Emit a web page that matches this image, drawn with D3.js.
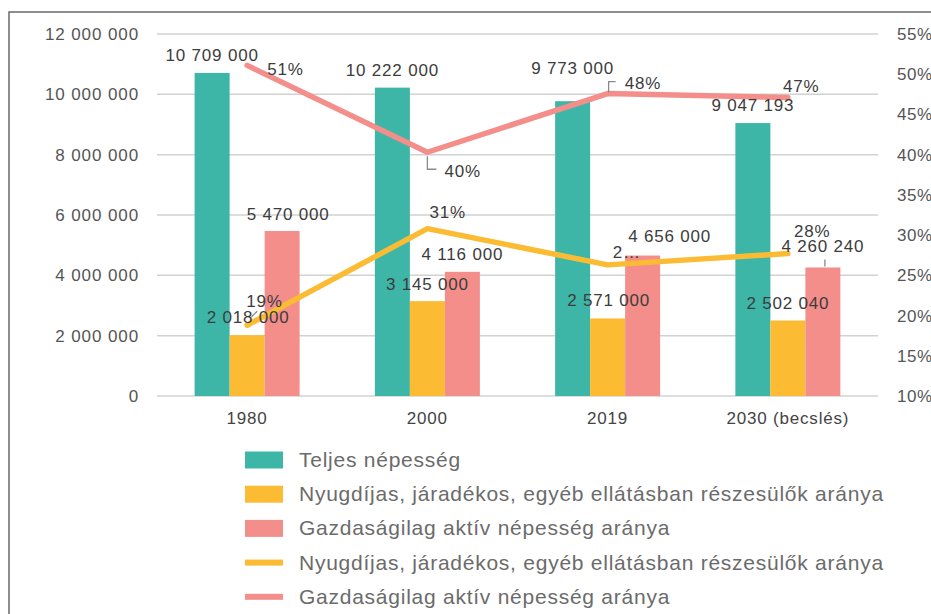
<!DOCTYPE html>
<html>
<head>
<meta charset="utf-8">
<script src="https://cdn.jsdelivr.net/npm/d3@7"></script>
<style>
  body { margin: 0; background: #fff; }
  svg { display: block; font-family: "Liberation Sans", Arial, sans-serif; }
</style>
</head>
<body>
<svg id="chart"></svg>
<script>
// categories and values
const categories = ['1980', '2000', '2019', '2030 (becslés)'];
const totalPop = [10709000, 10222000, 9773000, 9047193];
const pensioners = [2018000, 3145000, 2571000, 2502040];
const activePop = [5470000, 4116000, 4656000, 4260240];
const pensionerPct = [18.8, 30.8, 26.3, 27.7];
const activePct = [51.1, 40.3, 47.6, 47.1];
const pensionerPctLabels = ['19%', '31%', '2…', '28%'];
const activePctLabels = ['51%', '40%', '48%', '47%'];
const leftTicks = [0, 2000000, 4000000, 6000000, 8000000, 10000000, 12000000];
const rightTicks = [10, 15, 20, 25, 30, 35, 40, 45, 50, 55];
const legendNames = [
  'Teljes népesség',
  'Nyugdíjas, járadékos, egyéb ellátásban részesülők aránya',
  'Gazdaságilag aktív népesség aránya',
  'Nyugdíjas, járadékos, egyéb ellátásban részesülők aránya',
  'Gazdaságilag aktív népesség aránya'
];

const W = 931, H = 614;
const colors = { teal: '#3db6a8', yellow: '#fbbc33', pink: '#f38e8b' };
const fmt = (v) => d3.format(',')(v).replace(/,/g, ' ');

const $svg = d3.select('#chart').attr('width', W).attr('height', H);

// frame
$svg.append('rect')
  .attr('x', 9).attr('y', 12).attr('width', 1000).attr('height', 700)
  .attr('fill', 'none').attr('stroke', '#6a6a6a').attr('stroke-width', 1.5);

const x = d3.scaleBand().domain(categories).range([157, 878]),
  xSub = d3.scaleBand().domain(['total', 'pension', 'active'])
    .range([(x.bandwidth() - 105) / 2, (x.bandwidth() + 105) / 2]),
  yL = d3.scaleLinear().domain([0, 12000000]).range([396, 34]),
  yR = d3.scaleLinear().domain([10, 55]).range([396, 34]);
const cx = (c) => x(c) + x.bandwidth() / 2;

// gridlines
$svg.append('g').selectAll('line').data(leftTicks).enter().append('line')
  .attr('x1', 157).attr('x2', 878)
  .attr('y1', (d) => yL(d)).attr('y2', (d) => yL(d))
  .attr('stroke', '#d2d2d2').attr('stroke-width', 1.5);

// left axis labels
$svg.append('g').selectAll('text').data(leftTicks).enter().append('text')
  .attr('x', 139).attr('y', (d) => yL(d) + 6)
  .attr('text-anchor', 'end').attr('font-size', 17).attr('fill', '#555')
  .attr('letter-spacing', 0.9)
  .text((d) => fmt(d));

// right axis labels
$svg.append('g').selectAll('text').data(rightTicks).enter().append('text')
  .attr('x', 897).attr('y', (d) => yR(d) + 6)
  .attr('font-size', 17).attr('fill', '#555').attr('letter-spacing', 0.5)
  .text((d) => d + '%');

// category labels
$svg.append('g').selectAll('text').data(categories).enter().append('text')
  .attr('x', (d) => cx(d)).attr('y', 424)
  .attr('text-anchor', 'middle').attr('font-size', 17).attr('fill', '#444')
  .attr('letter-spacing', 0.8)
  .text((d) => d);

// bars
const barSeries = [
  { key: 'total', values: totalPop, color: colors.teal },
  { key: 'pension', values: pensioners, color: colors.yellow },
  { key: 'active', values: activePop, color: colors.pink }
];
barSeries.forEach((s) => {
  $svg.append('g').selectAll('rect').data(s.values).enter().append('rect')
    .attr('x', (d, i) => x(categories[i]) + xSub(s.key))
    .attr('width', xSub.bandwidth())
    .attr('y', (d) => yL(d))
    .attr('height', (d) => yL(0) - yL(d))
    .attr('fill', s.color);
});

// lines
const line = d3.line().x((d, i) => cx(categories[i]));
$svg.append('path')
  .datum(pensionerPct)
  .attr('d', line.y((d) => yR(d)))
  .attr('fill', 'none').attr('stroke', colors.yellow)
  .attr('stroke-width', 5.5).attr('stroke-linecap', 'round').attr('stroke-linejoin', 'round');
$svg.append('path')
  .datum(activePct)
  .attr('d', line.y((d) => yR(d)))
  .attr('fill', 'none').attr('stroke', colors.pink)
  .attr('stroke-width', 5.5).attr('stroke-linecap', 'round').attr('stroke-linejoin', 'round');

// data labels
const labelGroup = $svg.append('g').attr('font-size', 17).attr('fill', '#3c3c3c').attr('letter-spacing', 0.8);
const barLabelShift = {
  total: [[0, -12], [0, -12], [0, -27], [0, -12]],
  pension: [[1, -12], [0, -11], [1, -12], [0, -12]],
  active: [[6, -11], [0, -12], [27, -14], [0, -15]]
};
barSeries.forEach((s) => {
  labelGroup.append('g').selectAll('text').data(s.values).enter().append('text')
    .attr('x', (d, i) => x(categories[i]) + xSub(s.key) + xSub.bandwidth() / 2 + barLabelShift[s.key][i][0])
    .attr('y', (d, i) => yL(d) + barLabelShift[s.key][i][1])
    .attr('text-anchor', 'middle')
    .text((d) => fmt(d));
});

const pctShift = {
  active: [[20, 10], [17, 25], [17, -5], [-5, -6]],
  pension: [[-1, -18], [2, -11], [5, -7], [6, -17]]
};
labelGroup.append('g').selectAll('text').data(activePct).enter().append('text')
  .attr('x', (d, i) => cx(categories[i]) + pctShift.active[i][0])
  .attr('y', (d, i) => yR(d) + pctShift.active[i][1])
  .text((d, i) => activePctLabels[i]);
labelGroup.append('g').selectAll('text').data(pensionerPct).enter().append('text')
  .attr('x', (d, i) => cx(categories[i]) + pctShift.pension[i][0])
  .attr('y', (d, i) => yR(d) + pctShift.pension[i][1])
  .text((d, i) => pensionerPctLabels[i]);

// leader lines
const leaders = $svg.append('g').attr('fill', 'none').attr('stroke', '#8a8a8a').attr('stroke-width', 1.3);
const p40 = [cx(categories[1]), yR(activePct[1])];
leaders.append('path').attr('d', `M${p40[0]},${p40[1] + 4}V${p40[1] + 17}H${p40[0] + 9}`);
const p48 = [cx(categories[2]), yR(activePct[2])];
leaders.append('path').attr('d', `M${p48[0] + 1},${p48[1] - 1}V${p48[1] - 12}H${p48[0] + 8}`);
const p19 = [cx(categories[0]), yR(pensionerPct[0])];
leaders.append('path').attr('d', `M${p19[0] + 4},${p19[1] - 8}L${p19[0] + 10},${p19[1] - 14}`);
const b2030 = [x(categories[3]) + xSub('active') + xSub.bandwidth() / 2, yL(activePop[3])];
leaders.append('path').attr('d', `M${b2030[0] + 2},${b2030[1] - 8}V${b2030[1] - 1}`);

// legend
const legend = $svg.append('g').attr('font-size', 21).attr('fill', '#6b6b6b').attr('letter-spacing', 0.75);
const legendKinds = [
  { color: colors.teal, h: 17 },
  { color: colors.yellow, h: 17 },
  { color: colors.pink, h: 17 },
  { color: colors.yellow, h: 6 },
  { color: colors.pink, h: 6 }
];
legendNames.forEach((name, i) => {
  const cy = 460 + i * 34.2;
  legend.append('rect')
    .attr('x', 245).attr('y', cy - legendKinds[i].h / 2)
    .attr('width', 38).attr('height', legendKinds[i].h)
    .attr('fill', legendKinds[i].color);
  legend.append('text')
    .attr('x', 299).attr('y', cy + 7)
    .text(name);
});
</script>
</body>
</html>
